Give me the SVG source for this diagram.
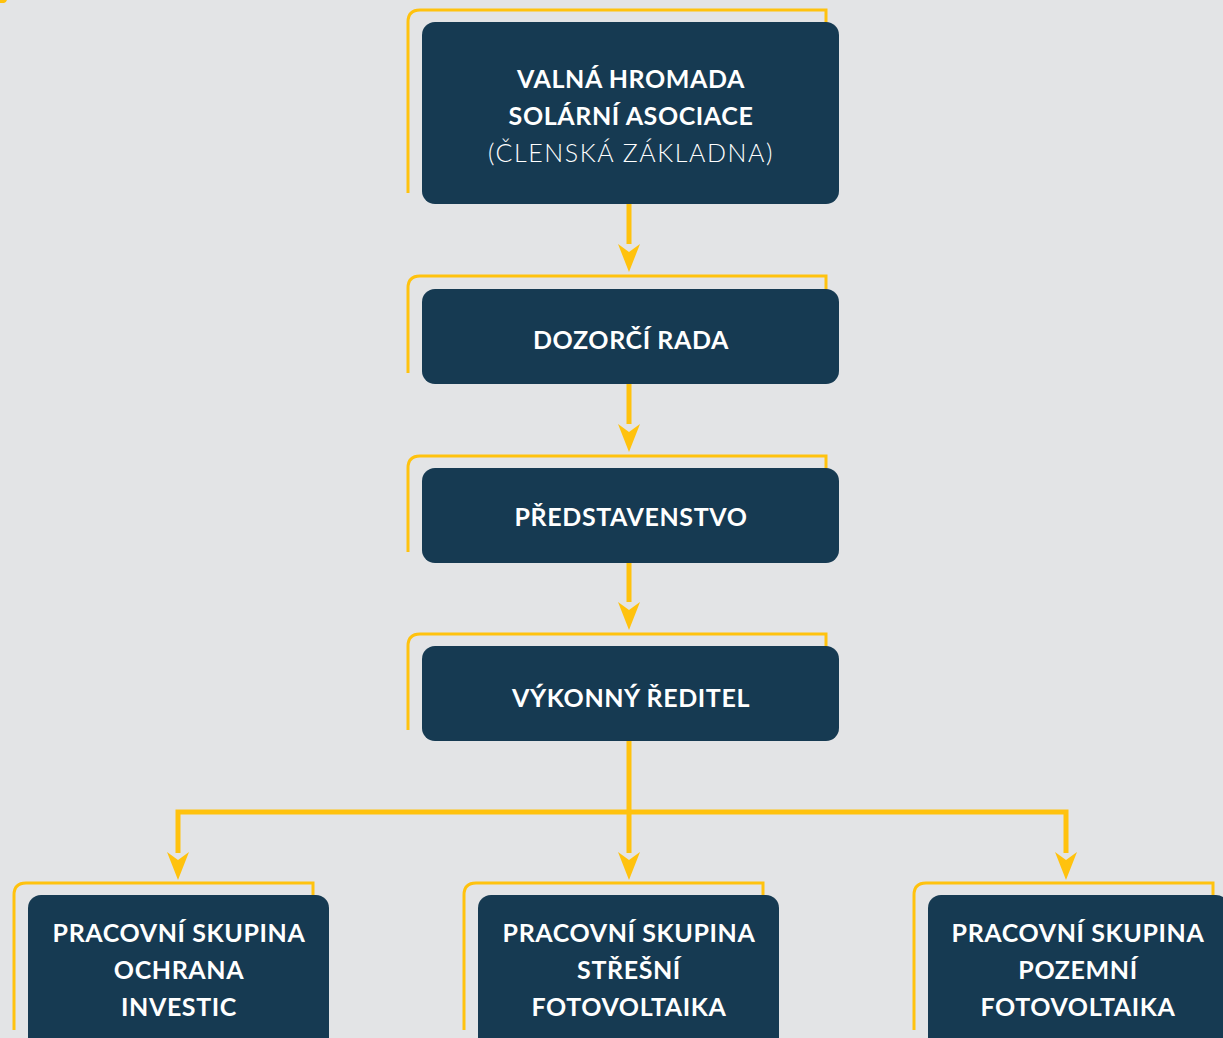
<svg xmlns="http://www.w3.org/2000/svg" width="1223" height="1038" viewBox="0 0 1223 1038">
<defs>
<style>
.frame{fill:none;stroke:#FFC20E;stroke-width:3}
.box{fill:#163A52}
.t{font-family:Lato,"Open Sans","Liberation Sans",sans-serif;font-weight:700;font-size:25px;letter-spacing:0.6px;fill:#FFFFFF;text-anchor:middle}
.l{font-weight:300;letter-spacing:1.6px}
.c{fill:none;stroke:#FFC20E;stroke-width:5}
.ah{fill:#FFC20E}
</style>
</defs>
<rect width="1223" height="1038" fill="#E3E4E6"/>
<path d="M0,3 H4 Q6,3 7,0 H0 Z" fill="#FFC20E"/>
<g id="connectors">
<line class="c" x1="629" y1="204" x2="629" y2="244"/>
<path class="ah" d="M618,244 L629,252 L640,244 L629,272 Z"/>
<line class="c" x1="629" y1="384" x2="629" y2="424"/>
<path class="ah" d="M618,424 L629,432 L640,424 L629,452 Z"/>
<line class="c" x1="629" y1="563" x2="629" y2="602"/>
<path class="ah" d="M618,602 L629,610 L640,602 L629,630 Z"/>
<line class="c" x1="629" y1="741" x2="629" y2="853"/>
<path class="ah" d="M618,852 L629,860 L640,852 L629,880 Z"/>
<path class="c" d="M178,853 V812 H1066 V853"/>
<path class="ah" d="M167,852 L178,860 L189,852 L178,880 Z"/>
<path class="ah" d="M1055,852 L1066,860 L1077,852 L1066,880 Z"/>
</g>
<g id="valna-hromada">
<path class="frame" d="M408,193 V22 Q408,10 420,10 H826 V40"/>
<rect class="box" x="422" y="22" width="417" height="182" rx="13"/>
<text class="t" x="631" y="88">VALNÁ HROMADA</text>
<text class="t" x="631" y="125">SOLÁRNÍ ASOCIACE</text>
<text class="t l" x="631" y="162">(ČLENSKÁ ZÁKLADNA)</text>
</g>
<g id="dozorci-rada">
<path class="frame" d="M408,373 V288 Q408,276 420,276 H826 V300"/>
<rect class="box" x="422" y="289" width="417" height="95" rx="13"/>
<text class="t" x="631" y="349">DOZORČÍ RADA</text>
</g>
<g id="predstavenstvo">
<path class="frame" d="M408,552 V468 Q408,456 420,456 H826 V480"/>
<rect class="box" x="422" y="468" width="417" height="95" rx="13"/>
<text class="t" x="631" y="526">PŘEDSTAVENSTVO</text>
</g>
<g id="vykonny-reditel">
<path class="frame" d="M408,730 V646 Q408,634 420,634 H826 V660"/>
<rect class="box" x="422" y="646" width="417" height="95" rx="13"/>
<text class="t" x="631" y="707">VÝKONNÝ ŘEDITEL</text>
</g>
<g id="ps-ochrana-investic">
<path class="frame" d="M14,1030 V895 Q14,883 26,883 H313 V910"/>
<rect class="box" x="28" y="895" width="301" height="160" rx="13"/>
<text class="t" x="179" y="942">PRACOVNÍ SKUPINA</text>
<text class="t" x="179" y="979">OCHRANA</text>
<text class="t" x="179" y="1016">INVESTIC</text>
</g>
<g id="ps-stresni-fv">
<path class="frame" d="M464,1030 V895 Q464,883 476,883 H763 V910"/>
<rect class="box" x="478" y="895" width="301" height="160" rx="13"/>
<text class="t" x="629" y="942">PRACOVNÍ SKUPINA</text>
<text class="t" x="629" y="979">STŘEŠNÍ</text>
<text class="t" x="629" y="1016">FOTOVOLTAIKA</text>
</g>
<g id="ps-pozemni-fv">
<path class="frame" d="M914,1030 V895 Q914,883 926,883 H1213 V910"/>
<rect class="box" x="928" y="895" width="301" height="160" rx="13"/>
<text class="t" x="1078" y="942">PRACOVNÍ SKUPINA</text>
<text class="t" x="1078" y="979">POZEMNÍ</text>
<text class="t" x="1078" y="1016">FOTOVOLTAIKA</text>
</g>
</svg>
